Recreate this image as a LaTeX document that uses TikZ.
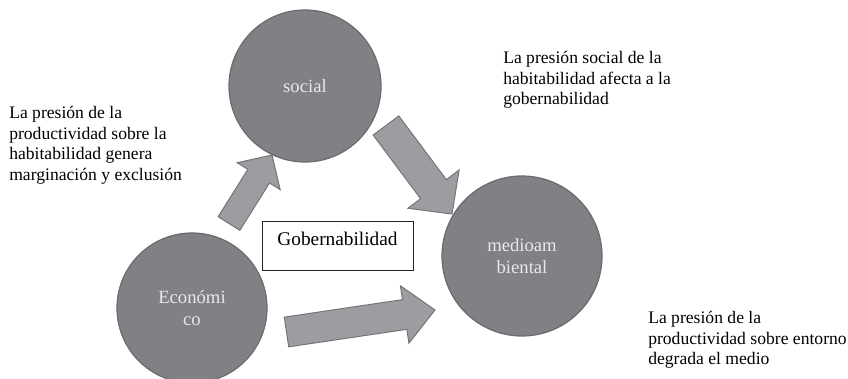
\documentclass[tikz,border=0pt]{standalone}
\usepackage{fontspec}
\setmainfont{Liberation Serif}
\definecolor{circlegray}{RGB}{128,128,133}
\definecolor{circleline}{RGB}{105,105,110}
\definecolor{arrowgray}{RGB}{156,157,161}
\definecolor{arrowline}{RGB}{115,115,120}
\definecolor{labelwhite}{RGB}{232,232,232}
\usetikzlibrary{calc}

\tikzset{
    sphere/.style={circle, fill=circlegray, draw=circleline, line width=0.9pt, minimum size=#1, inner sep=0pt, align=center, text=labelwhite, font=\fontsize{14}{16.5}\selectfont},
    arrowbody/.style={fill=arrowgray, draw=arrowline, line width=0.75pt, line join=miter},
    note/.style={anchor=north west, align=left, inner sep=0pt, font=\fontsize{13.2}{15.4}\selectfont}
}

\newcommand{\blockarrow}[5]{%
    \coordinate (hb) at ($(#2)!#5!(#1)$);
    \filldraw[arrowbody] ($(#1)!#3!90:(#2)$) -- ($(hb)!#3!90:(#2)$) -- ($(hb)!#4!90:(#2)$) -- (#2)
        -- ($(hb)!#4!-90:(#2)$) -- ($(hb)!#3!-90:(#2)$) -- ($(#1)!#3!-90:(#2)$) -- cycle;
}

\begin{document}
\begin{tikzpicture}[x=0.75pt, y=-0.75pt]
    \useasboundingbox (0,0) rectangle (848,378);
    \clip (0,0) rectangle (848,378);
    \node[sphere=114pt] (soc) at (305,86) {social};
    \node[sphere=112.5pt] (eco) at (192,308) {Económi\\co};
    \node[sphere=120pt] (med) at (522,256) {medioam\\biental};
    \coordinate (a1s) at (229,223.5);
    \coordinate (a1e) at (272,155);
    \coordinate (a2s) at (386,125.5);
    \coordinate (a2e) at (452,214);
    \coordinate (a3s) at (286.5,332);
    \coordinate (a3e) at (435,310);
    \blockarrow{a1s}{a1e}{9.6pt}{19pt}{18.75pt}
    \blockarrow{a2s}{a2e}{12pt}{24pt}{23.25pt}
    \blockarrow{a3s}{a3e}{11.25pt}{21.75pt}{23pt}
    \node[draw=black!85, line width=0.6pt, minimum width=113.25pt, text height=12pt, text depth=12.75pt, inner xsep=0pt, inner ysep=6pt, font=\fontsize{14.5}{17}\selectfont] (gob) at (337.5,245.5) {Gobernabilidad};
    \node[note] (n1) at (9,106) {La presión de la\\productividad sobre la\\habitabilidad genera\\marginación y exclusión};
    \node[note] (n2) at (503,51) {La presión social de la\\habitabilidad afecta a la\\gobernabilidad};
    \node[note] (n3) at (648,311) {La presión de la\\productividad sobre entorno\\degrada el medio};
\end{tikzpicture}
\end{document}
